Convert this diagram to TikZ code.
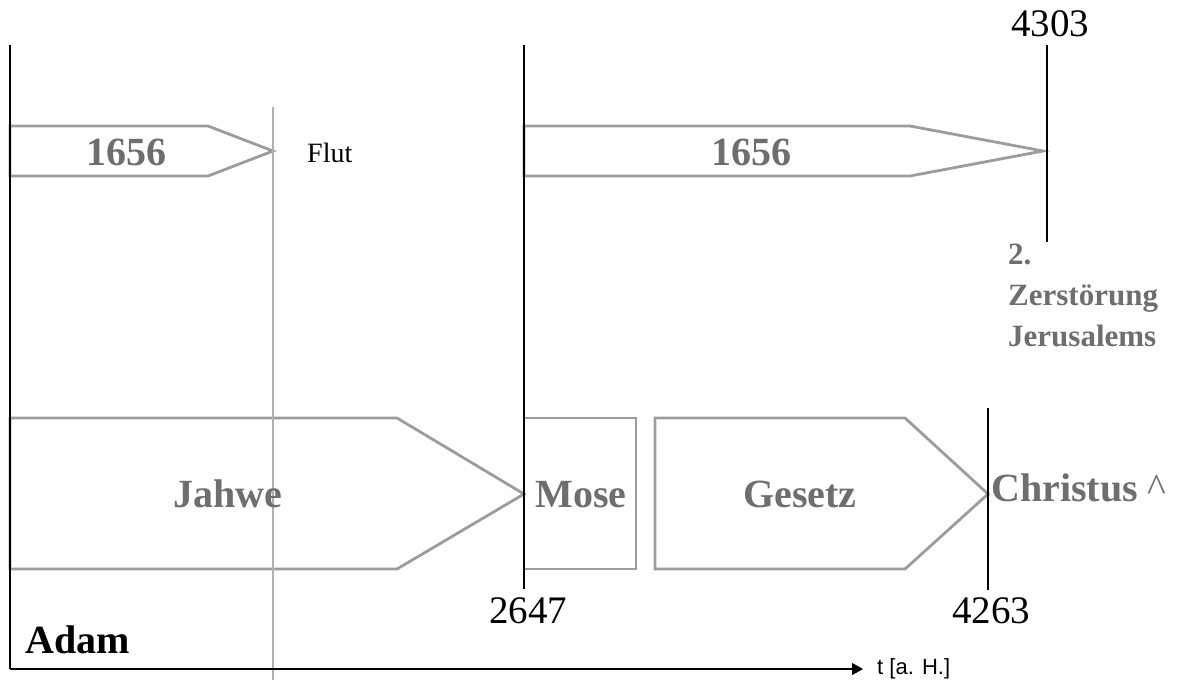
\documentclass[tikz,border=0pt]{standalone}
\usepackage{fontspec}
\setmainfont{Liberation Serif}
\newfontfamily\arialfont{Liberation Sans}
\usetikzlibrary{arrows.meta}
\definecolor{outl}{HTML}{9C9C9C}
\definecolor{gtext}{HTML}{6E6E6E}
\definecolor{flutl}{HTML}{B0B0B0}
\tikzset{
  period/.style={draw=outl, line width=2.8pt, line join=miter},
  marker/.style={draw=black, line width=1.3pt},
  graybig/.style={text=gtext, font=\bfseries\fontsize{40}{40}\selectfont, inner sep=0pt},
  yearlbl/.style={text=black, font=\fontsize{39}{39}\selectfont, inner sep=0pt, anchor=base},
}
\begin{document}
\begin{tikzpicture}[x=1pt,y=-1pt]
\useasboundingbox (0,0) rectangle (1184,686);
% period shapes
\draw[period] (10,126) -- (208,126) -- (273,151) -- (208,176) -- (10,176) -- cycle;
\draw[period] (524,126) -- (910,126) -- (1043,151) -- (910,176) -- (524,176) -- cycle;
\draw[period] (10,418) -- (397,418) -- (524,494) -- (397,569) -- (10,569) -- cycle;
\draw[period] (524,418) rectangle (636,569);
\draw[period] (655,418) -- (905,418) -- (988,494) -- (905,569) -- (655,569) -- cycle;
% coordinates
\coordinate (adamtop) at (10,45);
\coordinate (origin) at (10,669);
\coordinate (axisend) at (863,669);
\coordinate (flutT) at (273,107);
\coordinate (flutB) at (273,680);
\coordinate (moseT) at (524,45);
\coordinate (moseB) at (524,589);
\coordinate (zerT) at (1047,45);
\coordinate (zerB) at (1047,242);
\coordinate (chrT) at (988,408);
\coordinate (chrB) at (988,590);
% lines
\draw[flutl, line width=1.8pt] (flutT) -- (flutB);
\draw[marker] (adamtop) -- (origin);
\draw[marker, -{Triangle[length=11pt,width=12pt]}] (origin) -- (axisend);
\draw[marker] (moseT) -- (moseB);
\draw[marker] (zerT) -- (zerB);
\draw[marker] (chrT) -- (chrB);
% texts
\node[graybig, anchor=base] (n1) at (126.5,165) {1656};
\node[graybig, anchor=base] (n2) at (751,165) {1656};
\node[anchor=base west, inner sep=0pt, font=\fontsize{28}{28}\selectfont] (flut) at (307,162) {Flut};
\node[yearlbl] (y4303) at (1050,36) {4303};
\node[yearlbl] (y2647) at (528,623) {2647};
\node[yearlbl] (y4263) at (991,623) {4263};
\node[graybig, anchor=base] (jahwe) at (228,507) {Jahwe};
\node[graybig, anchor=base] (mose) at (581,507) {Mose};
\node[graybig, anchor=base] (gesetz) at (800,507) {Gesetz};
\node[graybig, anchor=base west] (christus) at (991,501) {Christus \textmd{\char`\^}};
\node[anchor=base west, inner sep=0pt, text=gtext, font=\bfseries\fontsize{31}{41}\selectfont, align=left] (zer) at (1008,346) {2.\\Zerstörung\\Jerusalems};
\node[anchor=base west, inner sep=0pt, font=\bfseries\fontsize{40}{40}\selectfont] (adam) at (25,653) {Adam};
\node[anchor=west, inner sep=0pt, font=\arialfont\fontsize{22}{22}\selectfont] (tlab) at (877,669) {t [a. H.]};
\end{tikzpicture}
\end{document}
